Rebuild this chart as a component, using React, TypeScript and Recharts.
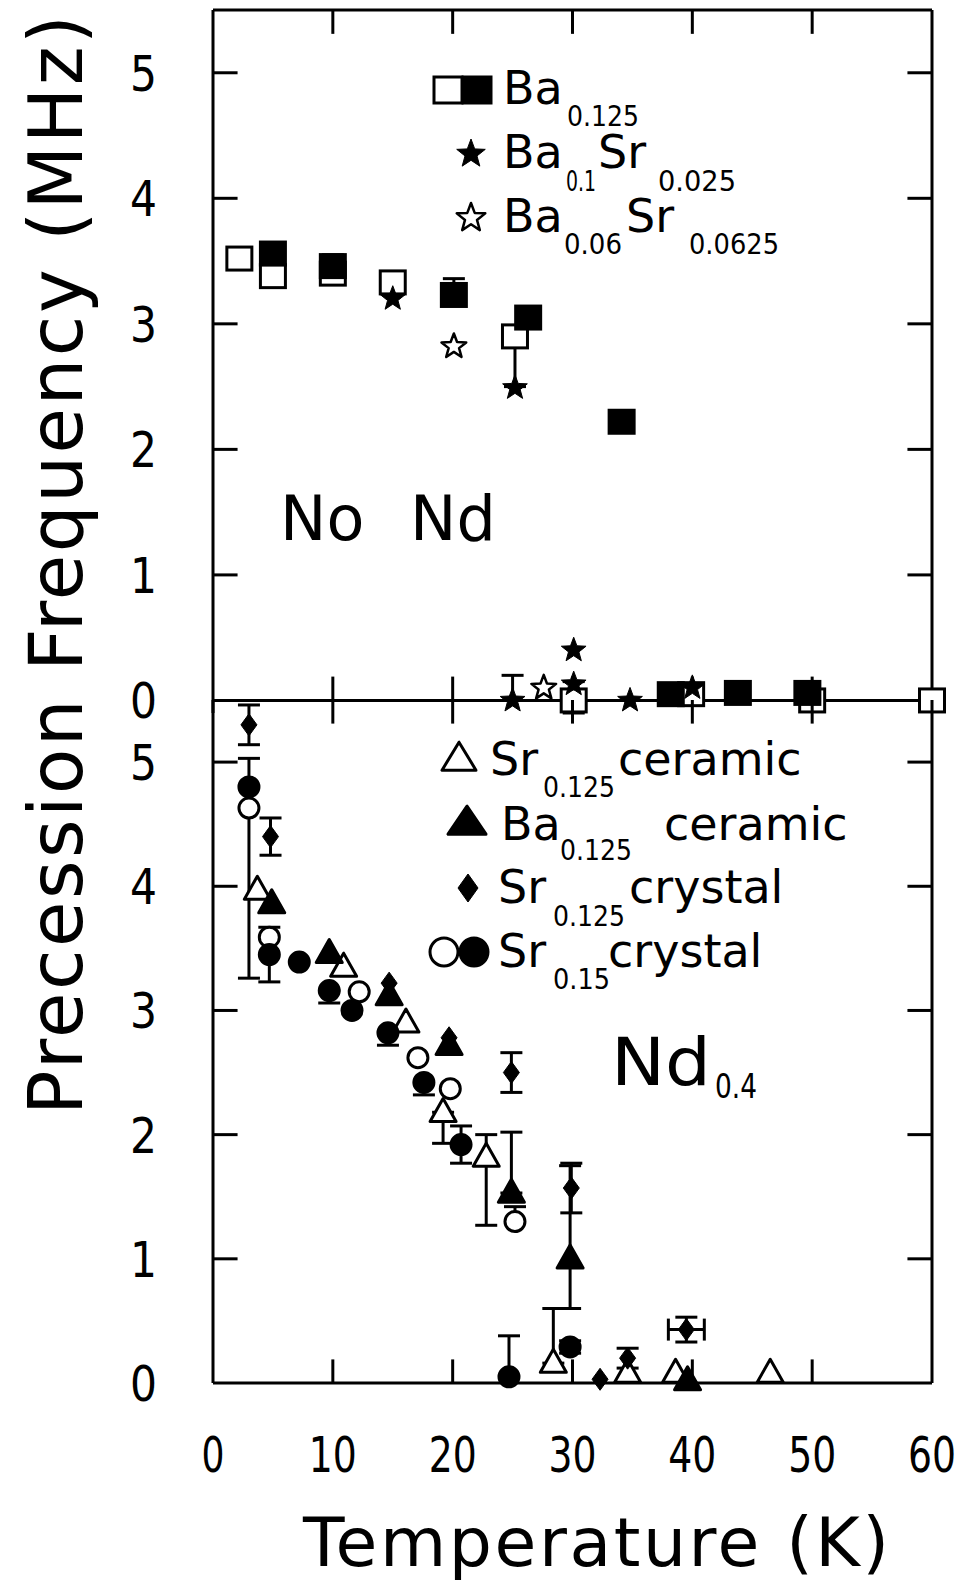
import React from 'react';
import { ScatterChart, Scatter, XAxis, YAxis, ReferenceLine, ErrorBar } from 'recharts';

const FONT = 'DejaVu Sans';

// t = temperature (K), f = precession frequency (MHz), err = error on f ([down, up] or symmetric)

// upper panel, no Nd
const ba125Open = [
  { t: 2.2, f: 3.52 },
  { t: 5.0, f: 3.38 },
  { t: 10.0, f: 3.4 },
  { t: 15.0, f: 3.33 },
  { t: 25.2, f: 2.9, err: [0.4, 0] },
  { t: 30.1, f: 0.0, err: [0.1, 0.15] },
  { t: 39.9, f: 0.05, err: 0.06 },
  { t: 50.0, f: 0.0, err: 0.06 },
  { t: 60.0, f: 0.0, err: [0, 0.08] },
];
const ba125Filled = [
  { t: 5.0, f: 3.56, err: 0.05 },
  { t: 10.0, f: 3.46, err: 0.09 },
  { t: 20.1, f: 3.23, err: [0, 0.13] },
  { t: 26.3, f: 3.05 },
  { t: 34.1, f: 2.22 },
  { t: 38.2, f: 0.05 },
  { t: 43.8, f: 0.06 },
  { t: 49.6, f: 0.06 },
];
const ba1Sr025 = [
  { t: 15.0, f: 3.2 },
  { t: 25.2, f: 2.49 },
  { t: 25.0, f: 0.0, err: [0, 0.2] },
  { t: 30.1, f: 0.4 },
  { t: 30.1, f: 0.13 },
  { t: 34.8, f: 0.0 },
  { t: 40.0, f: 0.1 },
];
const ba06Sr0625 = [
  { t: 20.1, f: 2.82 },
  { t: 27.6, f: 0.1 },
];

// lower panel, Nd0.4
const sr125Ceramic = [
  { t: 3.7, f: 3.97 },
  { t: 10.9, f: 3.35 },
  { t: 16.1, f: 2.9 },
  { t: 19.2, f: 2.18, err: [0.25, 0] },
  { t: 22.8, f: 1.82, err: [0.55, 0.18] },
  { t: 28.4, f: 0.16, err: [0, 0.44] },
  { t: 34.6, f: 0.08 },
  { t: 38.6, f: 0.08 },
  { t: 46.5, f: 0.08 },
];
const ba125Ceramic = [
  { t: 4.9, f: 3.86 },
  { t: 9.7, f: 3.46 },
  { t: 14.7, f: 3.12 },
  { t: 19.7, f: 2.72 },
  { t: 24.9, f: 1.53, err: [0, 0.49] },
  { t: 29.8, f: 1.0, err: [0.4, 0.75] },
  { t: 39.6, f: 0.02 },
];
const sr125Crystal = [
  { t: 3.0, f: 5.3, err: 0.16 },
  { t: 4.8, f: 4.4, err: 0.15 },
  { t: 14.7, f: 3.22 },
  { t: 19.7, f: 2.78 },
  { t: 24.9, f: 2.5, err: 0.16 },
  { t: 29.9, f: 1.57, err: 0.2 },
  { t: 32.3, f: 0.03 },
  { t: 34.6, f: 0.2, err: 0.08 },
  { t: 39.5, f: 0.43, err: 0.1, terr: 1.5 },
];
const sr15CrystalOpen = [
  { t: 3.0, f: 4.63, err: [1.37, 0.4] },
  { t: 4.7, f: 3.59 },
  { t: 12.2, f: 3.15 },
  { t: 17.1, f: 2.62 },
  { t: 19.8, f: 2.37 },
  { t: 25.2, f: 1.3, err: [0, 0.12] },
];
const sr15CrystalFilled = [
  { t: 3.0, f: 4.8 },
  { t: 4.7, f: 3.45, err: 0.22 },
  { t: 7.2, f: 3.39 },
  { t: 9.7, f: 3.16, err: [0.1, 0] },
  { t: 11.6, f: 3.0 },
  { t: 14.6, f: 2.82, err: [0.1, 0] },
  { t: 17.6, f: 2.42, err: [0.1, 0] },
  { t: 20.7, f: 1.92, err: 0.15 },
  { t: 24.7, f: 0.05, err: [0, 0.33] },
  { t: 29.8, f: 0.29, err: 0.05 },
];

const tempTicks = [0, 10, 20, 30, 40, 50, 60];
const freqTicks = [0, 1, 2, 3, 4, 5];
const innerTemp = [10, 20, 30, 40, 50];
const innerFreq = [1, 2, 3, 4, 5];
const TOP = 5.5;

// tick lengths in data units (about 24px)
const TICK_T = 2.05;
const TICK_F = 0.19;

const LW = 3;

const starPath = (cx: number, cy: number, R: number) => {
  const r = R * 0.42;
  let d = '';
  for (let i = 0; i < 10; i++) {
    const a = -Math.PI / 2 + (i * Math.PI) / 5;
    const rad = i % 2 ? r : R;
    d += (i ? 'L' : 'M') + (cx + rad * Math.cos(a)).toFixed(2) + ',' + (cy + rad * Math.sin(a)).toFixed(2);
  }
  return d + 'Z';
};

const fillOf = (filled: boolean) => (filled ? '#000' : '#fff');

const Square = ({ cx, cy, filled, w = 25, h = 23 }: any) => (
  <rect x={cx - w / 2} y={cy - h / 2} width={w} height={h} fill={fillOf(filled)} stroke="#000" strokeWidth={LW} />
);
const Star = ({ cx, cy, filled, R = 13 }: any) => (
  <path d={starPath(cx, cy, R)} fill={fillOf(filled)} stroke="#000" strokeWidth={filled ? 1 : 2.5} strokeLinejoin="round" />
);
const Triangle = ({ cx, cy, filled, w = 26, h = 23 }: any) => (
  <polygon
    points={`${cx},${cy - h * 0.6} ${cx - w / 2},${cy + h * 0.4} ${cx + w / 2},${cy + h * 0.4}`}
    fill={fillOf(filled)}
    stroke="#000"
    strokeWidth={LW}
    strokeLinejoin="round"
  />
);
const Diamond = ({ cx, cy, w = 16, h = 22 }: any) => (
  <polygon points={`${cx},${cy - h / 2} ${cx + w / 2},${cy} ${cx},${cy + h / 2} ${cx - w / 2},${cy}`} fill="#000" stroke="#000" strokeWidth={1} />
);
const Circle = ({ cx, cy, filled, r = 10 }: any) => (
  <circle cx={cx} cy={cy} r={r} fill={fillOf(filled)} stroke="#000" strokeWidth={LW} />
);

// narrow digit labels
const XTick = ({ x, y, payload }: any) => {
  const s = String(payload.value);
  return (
    <text x={x} y={y} dy="0.71em" textAnchor="middle" fontFamily={FONT} fontSize={50} fill="#000" textLength={s.length * 25 - 2} lengthAdjust="spacingAndGlyphs">
      {s}
    </text>
  );
};
const YTick = ({ x, y, payload }: any) => {
  const s = String(payload.value);
  return (
    <text x={x} y={y} dy="0.36em" textAnchor="end" fontFamily={FONT} fontSize={50} fill="#000" textLength={s.length * 27} lengthAdjust="spacingAndGlyphs">
      {s}
    </text>
  );
};

const frameLine = { stroke: '#000', strokeWidth: LW };

const sideTicks = (prefix: string) =>
  innerFreq.flatMap((f) => [
    <ReferenceLine key={`${prefix}l${f}`} segment={[{ x: 0, y: f }, { x: TICK_T, y: f }]} {...frameLine} />,
    <ReferenceLine key={`${prefix}r${f}`} segment={[{ x: 60, y: f }, { x: 60 - TICK_T, y: f }]} {...frameLine} />,
  ]);

const yAxisProps = {
  type: 'number' as const,
  dataKey: 'f',
  domain: [0, TOP],
  ticks: freqTicks,
  width: 213,
  axisLine: false,
  tickLine: false,
  tickSize: 0,
  tickMargin: 56,
  tick: <YTick />,
};

const errY = <ErrorBar dataKey="err" direction="y" width={11} strokeWidth={LW} stroke="#000" />;

const NoNdPanel = () => (
  <ScatterChart width={965} height={760} margin={{ top: 10, right: 33, bottom: 47, left: 0 }}>
    <XAxis type="number" dataKey="t" domain={[0, 60]} ticks={tempTicks} hide />
    <YAxis {...yAxisProps} />
    <Scatter data={ba125Open} isAnimationActive={false} shape={(p: any) => <Square cx={p.cx} cy={p.cy} filled={false} />}>
      {errY}
    </Scatter>
    <Scatter data={ba125Filled} isAnimationActive={false} shape={(p: any) => <Square cx={p.cx} cy={p.cy} filled />}>
      {errY}
    </Scatter>
    <Scatter data={ba06Sr0625} isAnimationActive={false} shape={(p: any) => <Star cx={p.cx} cy={p.cy} filled={false} />} />
    <Scatter data={ba1Sr025} isAnimationActive={false} shape={(p: any) => <Star cx={p.cx} cy={p.cy} filled />}>
      {errY}
    </Scatter>
    <ReferenceLine y={TOP} {...frameLine} />
    <ReferenceLine y={0} {...frameLine} />
    <ReferenceLine x={0} {...frameLine} />
    <ReferenceLine x={60} {...frameLine} />
    {innerTemp.map((t) => (
      <ReferenceLine key={`top${t}`} segment={[{ x: t, y: TOP }, { x: t, y: TOP - TICK_F }]} {...frameLine} />
    ))}
    {innerTemp.map((t) => (
      <ReferenceLine key={`mid${t}`} segment={[{ x: t, y: 0 }, { x: t, y: TICK_F }]} {...frameLine} />
    ))}
    {sideTicks('a')}
  </ScatterChart>
);

const NdPanel = () => (
  <ScatterChart width={965} height={943} margin={{ top: 60, right: 33, bottom: 0, left: 0 }}>
    <XAxis
      type="number"
      dataKey="t"
      domain={[0, 60]}
      ticks={tempTicks}
      height={200}
      axisLine={false}
      tickLine={false}
      tickSize={0}
      tickMargin={53}
      tick={<XTick />}
    />
    <YAxis {...yAxisProps} />
    <Scatter data={sr15CrystalOpen} isAnimationActive={false} shape={(p: any) => <Circle cx={p.cx} cy={p.cy} filled={false} />}>
      {errY}
    </Scatter>
    <Scatter data={sr125Ceramic} isAnimationActive={false} shape={(p: any) => <Triangle cx={p.cx} cy={p.cy} filled={false} />}>
      {errY}
    </Scatter>
    <Scatter data={sr15CrystalFilled} isAnimationActive={false} shape={(p: any) => <Circle cx={p.cx} cy={p.cy} filled />}>
      {errY}
    </Scatter>
    <Scatter data={ba125Ceramic} isAnimationActive={false} shape={(p: any) => <Triangle cx={p.cx} cy={p.cy} filled />}>
      {errY}
    </Scatter>
    <Scatter data={sr125Crystal} isAnimationActive={false} shape={(p: any) => <Diamond cx={p.cx} cy={p.cy} />}>
      {errY}
      <ErrorBar dataKey="terr" direction="x" width={11} strokeWidth={LW} stroke="#000" />
    </Scatter>
    <ReferenceLine y={0} {...frameLine} />
    <ReferenceLine x={0} {...frameLine} />
    <ReferenceLine x={60} {...frameLine} />
    {innerTemp.map((t) => (
      <ReferenceLine key={`mid${t}`} segment={[{ x: t, y: TOP }, { x: t, y: TOP - TICK_F }]} {...frameLine} />
    ))}
    {innerTemp.map((t) => (
      <ReferenceLine key={`bot${t}`} segment={[{ x: t, y: 0 }, { x: t, y: TICK_F }]} {...frameLine} />
    ))}
    {sideTicks('b')}
  </ScatterChart>
);

// text with optional fixed width (subscripts are set narrow)
const T = ({ x, y, size = 46, len, children }: any) => (
  <text
    x={x}
    y={y}
    fontFamily={FONT}
    fontSize={size}
    fill="#000"
    textLength={len}
    lengthAdjust={len ? 'spacingAndGlyphs' : undefined}
  >
    {children}
  </text>
);
const SUB = 29;

const Labels = () => (
  <svg width={965} height={1583} style={{ position: 'absolute', left: 0, top: 0, pointerEvents: 'none' }}>
    {/* axis titles */}
    <text
      transform="translate(82,565) rotate(-90)"
      textAnchor="middle"
      fontFamily={FONT}
      fontSize={74}
      fill="#000"
      textLength={1100}
      lengthAdjust="spacing"
    >
      Precession Frequency (MHz)
    </text>
    <text x={303} y={1566} fontFamily={FONT} fontSize={68} fill="#000" textLength={586} lengthAdjust="spacing">
      Temperature (K)
    </text>

    {/* upper legend */}
    <Square cx={448} cy={90} w={28} h={26} filled={false} />
    <Square cx={477} cy={90} w={28} h={26} filled />
    <T x={503} y={104}>Ba</T>
    <T x={567} y={126} size={SUB} len={72}>0.125</T>
    <Star cx={471} cy={154} R={15} filled />
    <T x={503} y={168}>Ba</T>
    <T x={566} y={191} size={SUB} len={30}>0.1</T>
    <T x={598} y={168}>Sr</T>
    <T x={658} y={191} size={SUB} len={78}>0.025</T>
    <Star cx={471} cy={218} R={15} filled={false} />
    <T x={503} y={232}>Ba</T>
    <T x={564} y={254} size={SUB} len={58}>0.06</T>
    <T x={626} y={232}>Sr</T>
    <T x={689} y={254} size={SUB} len={90}>0.0625</T>

    <T x={280} y={540} size={62}>No</T>
    <T x={410} y={540} size={62}>Nd</T>

    {/* lower legend */}
    <Triangle cx={459} cy={759} w={34} h={28} filled={false} />
    <T x={490} y={775}>Sr</T>
    <T x={543} y={797} size={SUB} len={72}>0.125</T>
    <T x={618} y={775}>ceramic</T>
    <Triangle cx={467} cy={823} w={38} h={28} filled />
    <T x={501} y={840}>Ba</T>
    <T x={560} y={860} size={SUB} len={72}>0.125</T>
    <T x={664} y={840}>ceramic</T>
    <Diamond cx={468} cy={888} w={20} h={28} />
    <T x={498} y={903}>Sr</T>
    <T x={553} y={926} size={SUB} len={72}>0.125</T>
    <T x={629} y={903}>crystal</T>
    <Circle cx={444} cy={952} r={14} filled={false} />
    <Circle cx={474} cy={952} r={14} filled />
    <T x={498} y={967}>Sr</T>
    <T x={553} y={989} size={SUB} len={57}>0.15</T>
    <T x={608} y={967}>crystal</T>

    <T x={611} y={1085} size={66} len={100}>Nd</T>
    <T x={715} y={1098} size={34} len={42}>0.4</T>
  </svg>
);

export default function App() {
  return (
    <div style={{ position: 'absolute', left: 0, top: 0, width: 965, height: 1583, background: '#fff' }}>
      <div style={{ position: 'absolute', left: 0, top: 0 }}>
        <NoNdPanel />
      </div>
      <div style={{ position: 'absolute', left: 0, top: 640 }}>
        <NdPanel />
      </div>
      <Labels />
    </div>
  );
}
